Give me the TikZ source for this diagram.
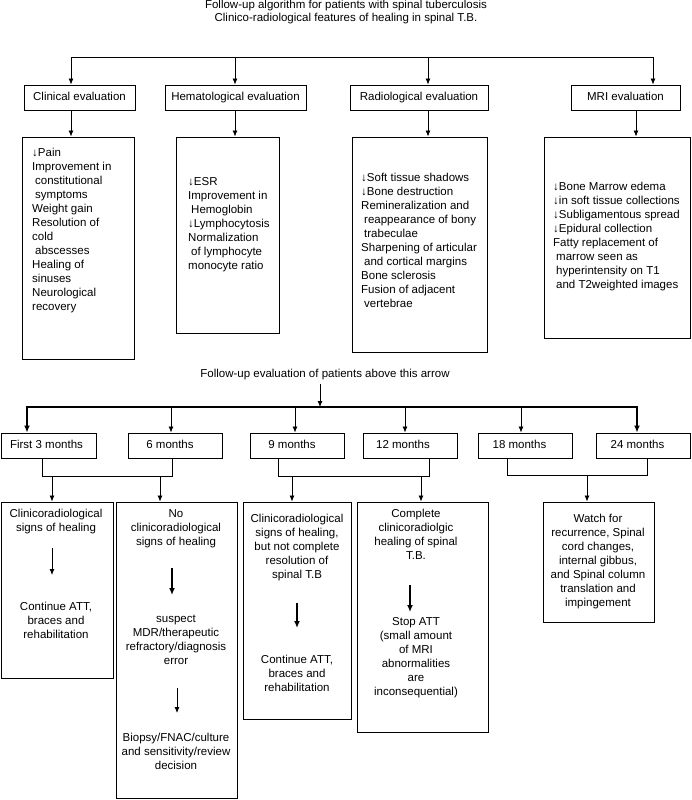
\documentclass[tikz,border=0pt]{standalone}
\usepackage{fontspec}
\setmainfont{Liberation Sans}
\usetikzlibrary{arrows.meta}
\begin{document}
\begin{tikzpicture}[x=1pt,y=-1pt,
  every node/.style={inner sep=0pt, font=\fontsize{11.5pt}{14pt}\selectfont},
  box/.style={draw, line width=0.9pt},
  lbl/.style={box, text height=8.3pt, text depth=2.4pt, minimum height=25pt},
  conn/.style={line width=0.8pt},
  arr/.style={line width=0.8pt, -{Latex[length=6pt,width=5pt]}},
  busarr/.style={line width=1.6pt, -{Latex[length=7pt,width=6pt]}},
  bigarr/.style={line width=1.6pt, -{Latex[length=7pt,width=6pt]}},
  ctxt/.style={align=center, anchor=north},
  ltxt/.style={align=left, anchor=north west},
]
\useasboundingbox (0,0) rectangle (692,800);

% ---------- titles ----------
\node (title1) at (346,6) {Follow-up algorithm for patients with spinal tuberculosis};
\node (title2) at (346,19) {Clinico-radiological features of healing in spinal T.B.};

% ---------- level 1 ----------
\node[lbl, minimum width=111pt] (clin) at (79.5,97.5) {Clinical evaluation};
\node[lbl, minimum width=141pt] (hema) at (235.5,97.5) {Hematological evaluation};
\node[lbl, minimum width=138pt] (radio) at (419,97.5) {Radiological evaluation};
\node[lbl, minimum width=109pt] (mri) at (625.5,97.5) {MRI evaluation};

\coordinate (tb1) at (71,57);
\coordinate (tb2) at (235,57);
\coordinate (tb3) at (428,57);
\coordinate (tb4) at (653,57);
\draw[arr] (tb4) -- (tb1) -- (tb1 |- clin.north);
\draw[arr] (tb1) -- (tb4) -- (tb4 |- mri.north);
\draw[arr] (tb2) -- (tb2 |- hema.north);
\draw[arr] (tb3) -- (tb3 |- radio.north);

% ---------- detail boxes (top) ----------
\node[box, minimum width=112pt, minimum height=222pt] (clinD) at (78,248) {};
\node[box, minimum width=103pt, minimum height=196pt] (hemaD) at (227.5,235) {};
\node[box, minimum width=135pt, minimum height=215pt] (radioD) at (419.5,244.5) {};
\node[box, minimum width=146pt, minimum height=201pt] (mriD) at (617,237.5) {};

\coordinate (s1) at ([xshift=-8.5pt]clin.south);
\coordinate (s2) at ([xshift=-0.5pt]hema.south);
\coordinate (s3) at ([xshift=9pt]radio.south);
\coordinate (s4) at ([xshift=10.5pt]mri.south);
\draw[arr] (s1) -- (s1 |- clinD.north);
\draw[arr] (s2) -- (s2 |- hemaD.north);
\draw[arr] (s3) -- (s3 |- radioD.north);
\draw[arr] (s4) -- (s4 |- mriD.north);

\node[ltxt] (clinT) at (32,146) {\strut ↓Pain\\Improvement in\\\hspace*{3pt}constitutional\\\hspace*{3pt}symptoms\\Weight gain\\Resolution of\\cold\\\hspace*{3pt}abscesses\\Healing of\\sinuses\\Neurological\\recovery};
\node[ltxt] (hemaT) at (188,175) {\strut ↓ESR\\Improvement in\\\hspace*{3pt}Hemoglobin\\↓Lymphocytosis\\Normalization\\\hspace*{3pt}of lymphocyte\\monocyte ratio};
\node[ltxt] (radioT) at (361,171) {\strut ↓Soft tissue shadows\\↓Bone destruction\\Remineralization and\\\hspace*{3pt}reappearance of bony\\\hspace*{3pt}trabeculae\\Sharpening of articular\\\hspace*{3pt}and cortical margins\\Bone sclerosis\\Fusion of adjacent\\\hspace*{3pt}vertebrae};
\node[ltxt] (mriT) at (553,180) {\strut ↓Bone Marrow edema\\↓in soft tissue collections\\↓Subligamentous spread\\↓Epidural collection\\Fatty replacement of\\\hspace*{3pt}marrow seen as\\\hspace*{3pt}hyperintensity on T1\\\hspace*{3pt}and T2weighted images};

% ---------- follow-up section ----------
\node (mid) at (325,375) {Follow-up evaluation of patients above this arrow};
\coordinate (bb) at (320,407);
\draw[arr, shorten <=3pt] (mid.south -| bb) -- (bb);

\node[lbl, minimum width=95pt] (m3) at (48.5,445.5) {\hspace*{-4pt}First 3 months};
\node[lbl, minimum width=94pt] (m6) at (175,445.5) {\hspace*{-10pt}6 months};
\node[lbl, minimum width=94pt] (m9) at (297,445.5) {\hspace*{-10pt}9 months};
\node[lbl, minimum width=94pt] (m12) at (410,445.5) {\hspace*{-14pt}12 months};
\node[lbl, minimum width=94pt] (m18) at (525,445.5) {\hspace*{-11pt}18 months};
\node[lbl, minimum width=94pt] (m24) at (643,445.5) {\hspace*{-11pt}24 months};

\coordinate (b1) at (27,407);
\coordinate (b2) at (171,407);
\coordinate (b3) at (295,407);
\coordinate (b4) at (405,407);
\coordinate (b5) at (521,407);
\coordinate (b6) at (637,407);
\draw[busarr] (b6) -- (b1) -- (b1 |- m3.north);
\draw[busarr] (b1) -- (b6) -- (b6 |- m24.north);
\draw[arr] (b2) -- (b2 |- m6.north);
\draw[arr] (b3) -- (b3 |- m9.north);
\draw[arr] (b4) -- (b4 |- m12.north);
\draw[arr] (b5) -- (b5 |- m18.north);

% ---------- outcome boxes ----------
\node[box, minimum width=112pt, minimum height=176pt] (A) at (57,590) {};
\node[box, minimum width=121pt, minimum height=296pt] (B) at (176.5,650) {};
\node[box, minimum width=108pt, minimum height=217pt] (C) at (297,610.5) {};
\node[box, minimum width=131pt, minimum height=230pt] (D) at (422.5,617) {};
\node[box, minimum width=111pt, minimum height=120pt] (E) at (598.5,562) {};

\coordinate (j1) at (42,476);
\coordinate (j2) at (172,476);
\coordinate (j1a) at (52,476);
\coordinate (j2a) at (160,476);
\draw[conn] (m3.south -| j1) -- (j1) -- (j2) -- (m6.south -| j2);
\draw[arr] (j1a) -- (j1a |- A.north);
\draw[arr] (j2a) -- (j2a |- B.north);

\coordinate (j3) at (278,476);
\coordinate (j4) at (429,476);
\coordinate (j3a) at (292,476);
\coordinate (j4a) at (421,476);
\draw[conn] (m9.south -| j3) -- (j3) -- (j4) -- (m12.south -| j4);
\draw[arr] (j3a) -- (j3a |- C.north);
\draw[arr] (j4a) -- (j4a |- D.north);

\coordinate (j5) at (507,475);
\coordinate (j6) at (647,475);
\coordinate (j5a) at (587,475);
\draw[conn] (m18.south -| j5) -- (j5) -- (j6) -- (m24.south -| j6);
\draw[arr] (j5a) -- (j5a |- E.north);

% texts inside outcome boxes
\node[ctxt] (A1) at (56,507) {\strut Clinicoradiological\\signs of healing\strut};
\node[ctxt] (A2) at (56,600) {\strut Continue ATT,\\braces and\\rehabilitation\strut};
\draw[arr, shorten <=13pt, shorten >=25pt] ([xshift=-4pt]A1.south) -- ([xshift=-4pt]A2.north);

\node[ctxt] (B1) at (176,507) {\strut No\\clinicoradiological\\signs of healing\strut};
\node[ctxt] (B2) at (176,612) {\strut suspect\\MDR/therapeutic\\refractory/diagnosis\\error\strut};
\node[ctxt] (B3) at (176,731) {\strut Biopsy/FNAC/culture\\and sensitivity/review\\decision\strut};
\draw[bigarr, shorten <=19pt, shorten >=17pt] ([xshift=-4pt]B1.south) -- ([xshift=-4pt]B2.north);
\draw[arr, shorten <=20pt, shorten >=18pt] ([xshift=1pt]B2.south) -- ([xshift=1pt]B3.north);

\node[ctxt] (C1) at (297,512) {\strut Clinicoradiological\\signs of healing,\\but not complete\\resolution of\\spinal T.B\strut};
\node[ctxt] (C2) at (297,653) {\strut Continue ATT,\\braces and\\rehabilitation\strut};
\draw[bigarr, shorten <=21pt, shorten >=25pt] (C1.south) -- (C2.north);

\node[ctxt] (D1) at (416,507) {\strut Complete\\clinicoradiolgic\\healing of spinal\\T.B.\strut};
\node[ctxt] (D2) at (416,615) {\strut Stop ATT\\(small amount\\of MRI\\abnormalities\\are\\inconsequential)\strut};
\draw[bigarr, shorten <=22pt, shorten >=3pt] ([xshift=-6pt]D1.south) -- ([xshift=-6pt]D2.north);

\node[ctxt] (E1) at (598,512) {\strut Watch for\\recurrence, Spinal\\cord changes,\\internal gibbus,\\and Spinal column\\translation and\\impingement\strut};

\end{tikzpicture}
\end{document}
